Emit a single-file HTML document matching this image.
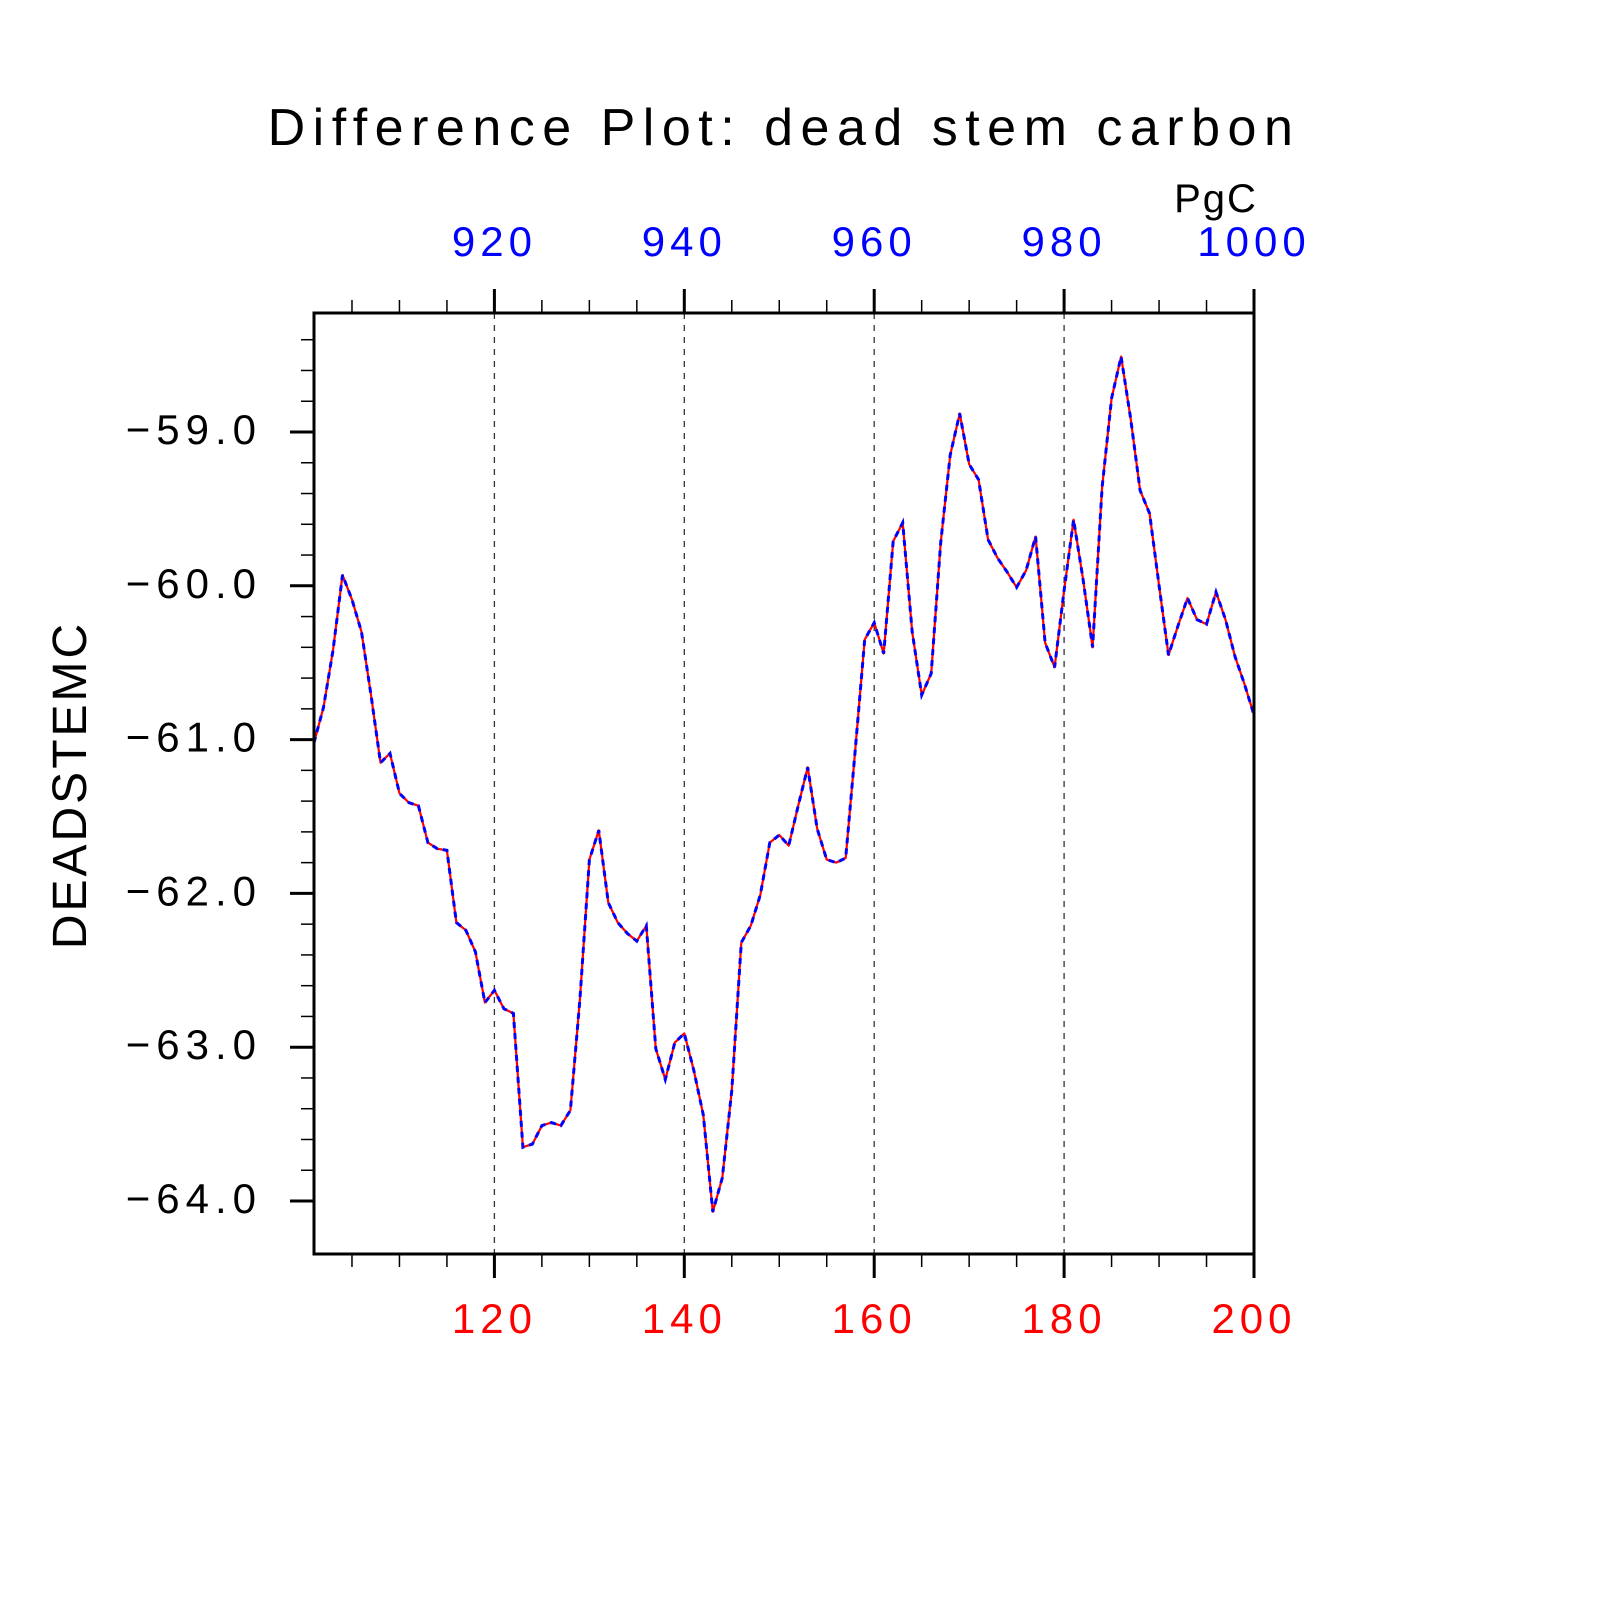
<!DOCTYPE html>
<html><head><meta charset="utf-8"><style>
html,body{margin:0;padding:0;background:#fff;}
svg{display:block;}
text{font-family:"Liberation Sans","DejaVu Sans",sans-serif;}
</style></head><body>
<svg id="chart" width="1620" height="1620" viewBox="0 0 1620 1620">
<text x="784" y="145" text-anchor="middle" font-size="52" font-weight="300" fill="#000" letter-spacing="7.5">Difference Plot: dead stem carbon</text>
<text x="1216" y="212" text-anchor="middle" font-size="40" fill="#000" letter-spacing="2">PgC</text>
<text transform="translate(86,785) rotate(-90)" text-anchor="middle" font-size="48" fill="#000" letter-spacing="3">DEADSTEMC</text>
<g id="grid"></g>
<g id="axes"></g>
<g id="series"></g>
<rect x="314" y="313" width="940" height="941" fill="none" stroke="#000" stroke-width="3"/>
</svg>
<script>
const years=[];for(let i=101;i<=200;i++)years.push(i);
const values=[-61.02,-60.79,-60.42,-59.93,-60.09,-60.30,-60.71,-61.15,-61.09,-61.35,
-61.41,-61.43,-61.67,-61.71,-61.72,-62.19,-62.24,-62.38,-62.71,-62.63,
-62.75,-62.78,-63.65,-63.63,-63.51,-63.49,-63.51,-63.41,-62.69,-61.78,
-61.59,-62.06,-62.19,-62.26,-62.31,-62.21,-63.01,-63.21,-62.97,-62.91,
-63.15,-63.44,-64.07,-63.85,-63.28,-62.32,-62.21,-62.01,-61.67,-61.62,
-61.69,-61.43,-61.18,-61.58,-61.78,-61.80,-61.77,-61.07,-60.35,-60.24,
-60.44,-59.71,-59.59,-60.30,-60.71,-60.57,-59.72,-59.15,-58.88,-59.21,
-59.31,-59.70,-59.82,-59.91,-60.01,-59.90,-59.68,-60.37,-60.53,-60.03,
-59.57,-59.96,-60.40,-59.36,-58.78,-58.51,-58.91,-59.38,-59.53,-60.00,
-60.45,-60.26,-60.08,-60.22,-60.25,-60.04,-60.22,-60.46,-60.64,-60.84];
const xTicks=[120,140,160,180,200];
const xTopTicks=[920,940,960,980,1000];
const yTicks=[-59,-60,-61,-62,-63,-64];
const yTickLabels=["\u221259.0","\u221260.0","\u221261.0","\u221262.0","\u221263.0","\u221264.0"];
const NS="http://www.w3.org/2000/svg";
const X0=314,X1=1254,Y0=313,Y1=1254;
const xMin=101,xMax=200,yTop=-59+(432-313)/153.8,yBot=-64-(1254-1201)/153.8;
function sx(v){return X0+(v-xMin)/(xMax-xMin)*(X1-X0);}
function sy(v){return Y0+(yTop-v)/(yTop-yBot)*(Y1-Y0);}
function mk(tag,attrs,parent){const e=document.createElementNS(NS,tag);for(const k in attrs)e.setAttribute(k,attrs[k]);parent.appendChild(e);return e;}
const grid=document.getElementById('grid'),axes=document.getElementById('axes'),series=document.getElementById('series');
xTicks.slice(0,4).forEach(t=>{const l=mk('line',{x1:sx(t),x2:sx(t),y1:Y0,y2:Y1,stroke:'#333','stroke-width':1.3,'stroke-dasharray':'6 6'},grid);

});
for(let t=105;t<=200;t+=5){const major=t%20===0;const x=sx(t);
const a=mk('line',{x1:x,x2:x,y1:Y1,y2:Y1+(major?24:13),stroke:'#000','stroke-width':major?3:1.5},axes);


const b=mk('line',{x1:x,x2:x,y1:Y0,y2:Y0-(major?24:13),stroke:'#000','stroke-width':major?3:1.5},axes);

}
xTicks.forEach(t=>{const e=mk('text',{x:sx(t),y:1333,'text-anchor':'middle','font-size':42,fill:'#ff0000','letter-spacing':5},axes);e.textContent=t;

});
xTopTicks.forEach((t,i)=>{const e=mk('text',{x:sx(xTicks[i]),y:256,'text-anchor':'middle','font-size':42,fill:'#0000ff','letter-spacing':5},axes);e.textContent=t;

});
for(let k=-320;k<=-291;k++){const v=k/5;const y=sy(v);if(y<Y0+2||y>Y1-2)continue;const major=k%5===0;
const a=mk('line',{x1:X0,x2:X0-(major?24:13),y1:y,y2:y,stroke:'#000','stroke-width':major?3:1.5},axes);

}
yTicks.forEach((t,i)=>{const e=mk('text',{x:262,y:sy(t)+12,'text-anchor':'end','font-size':42,fill:'#000','letter-spacing':6},axes);e.textContent=yTickLabels[i];

});
const pts=years.map((yr,i)=>sx(yr).toFixed(1)+','+sy(values[i]).toFixed(1)).join(' ');
const r=mk('polyline',{points:pts,fill:'none',stroke:'#ff0000','stroke-width':2.2,'stroke-linejoin':'round'},series);


const bl=mk('polyline',{points:pts,fill:'none',stroke:'#0000ff','stroke-width':3,'stroke-dasharray':'6 5'},series);


</script>
</body></html>
